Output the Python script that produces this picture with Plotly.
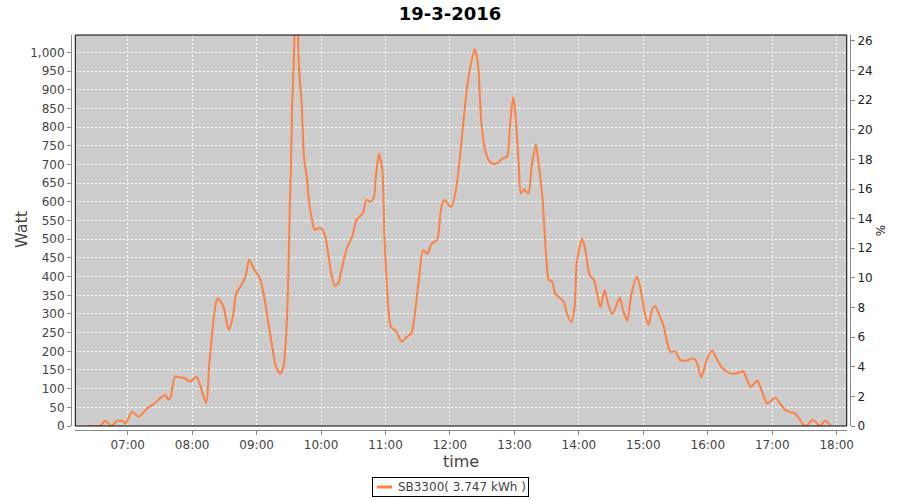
'''
    Daily production line chart of the SB3300 inverter (19-3-2016).
'''
import plotly.graph_objects as go

DAY = "2016-03-19"

# time of day of each sample
times = [
    "06:23", "06:34", "06:39", "06:45", "06:50", "06:56", "06:58", "07:04", "07:10", "07:18",
    "07:25", "07:30", "07:35", "07:38", "07:40", "07:44", "07:49", "07:53", "07:58", "08:04",
    "08:13", "08:16", "08:22", "08:24", "08:29", "08:34", "08:38", "08:41", "08:46", "08:50",
    "08:53", "08:58", "09:03", "09:07", "09:11", "09:15", "09:18", "09:22", "09:25", "09:27",
    "09:29", "09:31", "09:32", "09:33", "09:35", "09:36", "09:38", "09:39", "09:40", "09:42",
    "09:43", "09:44", "09:47", "09:48", "09:51", "09:54", "09:57", "10:01", "10:04", "10:07",
    "10:10", "10:13", "10:16", "10:19", "10:24", "10:29", "10:33", "10:39", "10:42", "10:46",
    "10:49", "10:51", "10:54", "10:57", "10:59", "11:01", "11:03", "11:05", "11:10", "11:15",
    "11:20", "11:24", "11:27", "11:31", "11:35", "11:39", "11:43", "11:48", "11:52", "11:55",
    "12:01", "12:05", "12:09", "12:13", "12:16", "12:19", "12:23", "12:26", "12:29", "12:32",
    "12:36", "12:40", "12:45", "12:49", "12:53", "12:56", "12:59", "13:01", "13:04", "13:06",
    "13:09", "13:13", "13:16", "13:20", "13:23", "13:26", "13:28", "13:30", "13:32", "13:35",
    "13:38", "13:41", "13:46", "13:49", "13:53", "13:56", "13:58", "14:03", "14:06", "14:10",
    "14:14", "14:17", "14:20", "14:24", "14:27", "14:31", "14:35", "14:38", "14:41", "14:45",
    "14:49", "14:54", "14:57", "15:02", "15:05", "15:08", "15:11", "15:15", "15:19", "15:22",
    "15:25", "15:30", "15:34", "15:40", "15:47", "15:50", "15:54", "15:59", "16:04", "16:08",
    "16:14", "16:21", "16:27", "16:33", "16:36", "16:40", "16:46", "16:50", "16:55", "16:58",
    "17:03", "17:07", "17:12", "17:17", "17:21", "17:25", "17:29", "17:32", "17:37", "17:40",
    "17:44", "17:49", "17:52", "17:54",
]

# power in Watt
watts = [
    0, 0, 14, 0, 14, 12, 7, 38, 25, 47,
    61, 74, 83, 70, 78, 132, 130, 128, 119, 132,
    61, 168, 329, 342, 320, 257, 293, 355, 378, 404,
    446, 418, 396, 346, 275, 204, 159, 141, 159, 221,
    346, 600, 700, 850, 1010, 1100, 1080, 990, 935, 860,
    790, 721, 660, 623, 561, 525, 529, 527, 507, 454,
    400, 375, 382, 418, 476, 507, 552, 570, 605, 601,
    610, 668, 729, 686, 507, 391, 302, 266, 253, 226,
    239, 248, 293, 391, 471, 461, 489, 498, 588, 605,
    586, 623, 712, 829, 909, 962, 1009, 971, 820, 748,
    712, 702, 705, 717, 721, 811, 882, 829, 704, 623,
    634, 623, 695, 753, 690, 614, 525, 436, 391, 387,
    355, 346, 332, 300, 279, 318, 436, 502, 471, 405,
    391, 355, 318, 364, 329, 300, 323, 345, 311, 282,
    355, 400, 373, 293, 271, 311, 321, 296, 266, 226,
    199, 199, 177, 175, 181, 168, 130, 177, 202, 181,
    154, 141, 141, 146, 128, 105, 121, 96, 61, 65,
    76, 61, 43, 37, 34, 21, 3, 0, 16, 12,
    0, 14, 9, 0,
]

series_name = "SB3300( 3.747 kWh )"
hour_ticks = ["07:00", "08:00", "09:00", "10:00", "11:00", "12:00",
              "13:00", "14:00", "15:00", "16:00", "17:00", "18:00"]

LINE_COLOR = "#ff8040"
x = [f"{DAY} {t}" for t in times]

fig = go.Figure()
fig.add_trace(go.Scatter(
    x=x, y=watts, mode="lines", name=series_name, showlegend=False,
    line=dict(color=LINE_COLOR, width=2, shape="spline", smoothing=0.7),
))
# empty trace so the right-hand % axis is drawn
fig.add_trace(go.Scatter(x=[x[0]], y=[None], yaxis="y2", showlegend=False, hoverinfo="skip"))

tickfont = dict(family="DejaVu Sans", size=12, color="#444444")
grid = dict(showgrid=True, gridcolor="white", griddash="2px,2px", gridwidth=1)

fig.update_layout(
    width=900, height=500,
    margin=dict(l=71, r=50, t=35, b=70, autoexpand=False),
    paper_bgcolor="white",
    plot_bgcolor="#cccccc",
    font=dict(family="DejaVu Sans", color="#444444"),
    title=dict(text="<b>19-3-2016</b>", x=0.5, xanchor="center", y=0.972, yanchor="middle",
               font=dict(family="DejaVu Sans", size=18, color="black")),
    xaxis=dict(
        type="date",
        domain=[0.0055, 0.9958],
        anchor="free", position=0,
        range=[f"{DAY} 06:11:12", f"{DAY} 18:09:20"],
        tickvals=[f"{DAY} {t}" for t in hour_ticks],
        ticktext=hour_ticks,
        tickfont=tickfont,
        ticks="outside", ticklen=4, tickcolor="#888888",
        showline=True, linecolor="#888888", linewidth=1,
        zeroline=False,
        title=dict(text="time", font=dict(family="DejaVu Sans", size=16, color="#444444"), standoff=1),
        **grid,
    ),
    yaxis=dict(
        domain=[0.0101, 1],
        anchor="free", position=0,
        range=[0, 1047],
        dtick=50, tickformat=",",
        tickfont=tickfont,
        ticks="outside", ticklen=4, tickcolor="#888888",
        showline=True, linecolor="#888888", linewidth=1,
        zeroline=False,
        **grid,
    ),
    yaxis2=dict(
        overlaying="y", side="right",
        anchor="free", position=1,
        range=[0, 26.4],
        dtick=2,
        tickfont=dict(family="DejaVu Sans", size=12, color="#222222"),
        ticks="outside", ticklen=4, tickcolor="#888888",
        showline=True, linecolor="#888888", linewidth=1,
        showgrid=False, zeroline=False,
        title=dict(text="%", font=dict(family="DejaVu Sans", size=12, color="#222222"), standoff=4),
    ),
)

# left axis title
fig.add_annotation(
    text="Watt", xref="paper", yref="paper", x=(21 - 71) / 779, y=(430 - 230) / 395,
    xanchor="center", yanchor="middle", textangle=-90, showarrow=False,
    font=dict(family="DejaVu Sans", size=16, color="#444444"),
)

# black border round the plot area
fig.add_shape(type="rect", xref="x domain", yref="y domain", x0=0, y0=0, x1=1, y1=1,
              line=dict(color="black", width=1), layer="above")

# legend box below the chart: swatch + series name
fig.add_annotation(
    text="&nbsp;&nbsp;&nbsp;&nbsp;&nbsp;&nbsp;" + series_name,
    xref="paper", yref="paper", x=(450 - 71) / 779, y=-(487 - 430) / 395,
    xanchor="center", yanchor="middle", showarrow=False,
    font=dict(family="DejaVu Sans", size=12, color="#444444"),
    bordercolor="black", borderwidth=1, borderpad=2,
)
fig.add_shape(type="line", xref="paper", yref="paper",
              x0=(377 - 71) / 779, x1=(392 - 71) / 779,
              y0=-(487 - 430) / 395, y1=-(487 - 430) / 395,
              line=dict(color=LINE_COLOR, width=3))

# the page body has a default 8px margin; drop it so the chart sits at the corner
fig.write_html("out.html", config={"displayModeBar": False},
               post_script="document.body.style.margin='0';")
